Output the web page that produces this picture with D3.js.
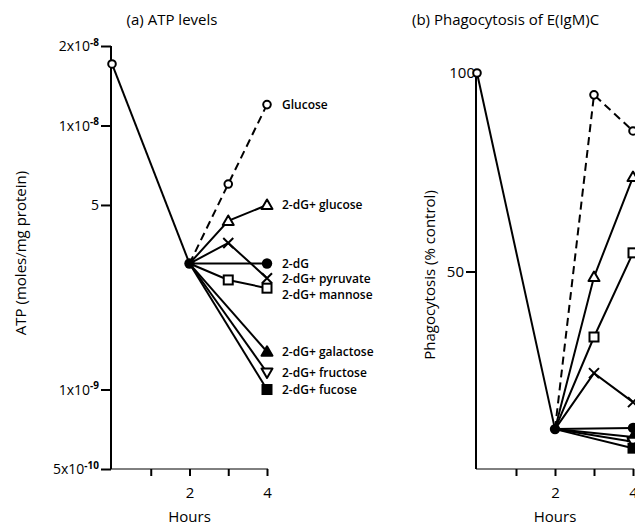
<!DOCTYPE html>
<html lang="en">
<head>
    <meta charset="UTF-8">
    <title>ATP levels and phagocytosis</title>
    <script src="https://cdn.jsdelivr.net/npm/d3@7"></script>
    <style>
        body { margin: 0; background: #fff; }
        svg text { font-family: "Open Sans", "DejaVu Sans", sans-serif; fill: #000; }
    </style>
</head>
<body>
<div id="chart"></div>
<script>
// hours of the shared start (control -> 2-dG) and of the treatment arms
const startHours = [0, 2];
const armHours = [2, 3, 4];

const seriesNames = ["Glucose", "2-dG+glucose", "2-dG", "2-dG+pyruvate", "2-dG+mannose",
                     "2-dG+galactose", "2-dG+fructose", "2-dG+fucose"];
const seriesMarkers = ["circleOpen", "triangleOpen", "circleFilled", "cross", "squareOpen",
                       "triangleFilled", "triangleDownOpen", "squareFilled"];

// (a) ATP, moles/mg protein
const atpStart = [1.71e-8, 3.0e-9];
const atpGlucose = [3.0e-9, 6.0e-9, 1.2e-8];
const atpDgGlucose = [3.0e-9, 4.35e-9, 5.0e-9];
const atpDg = [3.0e-9, null, 3.0e-9];
const atpPyruvate = [3.0e-9, 3.59e-9, 2.64e-9];
const atpMannose = [3.0e-9, 2.6e-9, 2.42e-9];
const atpGalactose = [3.0e-9, null, 1.39e-9];
const atpFructose = [3.0e-9, null, 1.16e-9];
const atpFucose = [3.0e-9, null, 1.0e-9];
const atpTicks = [2e-8, 1e-8, 5e-9, 1e-9, 5e-10];
const atpTickLabels = [["2x10", "-8"], ["1x10", "-8"], ["5", ""], ["1x10", "-9"], ["5x10", "-10"]];

// (b) phagocytosis, % control
const phagoStart = [100, 10.3];
const phagoGlucose = [10.3, 94.5, 85.4];
const phagoDgGlucose = [10.3, 48.6, 73.8];
const phagoDg = [10.3, null, 10.6];
const phagoPyruvate = [10.3, 24.4, 17.1];
const phagoMannose = [10.3, 33.5, 54.7];
const phagoGalactose = [10.3, null, 8.3];
const phagoFructose = [10.3, null, 7.1];
const phagoFucose = [10.3, null, 5.5];
const phagoTicks = [50, 100];

const hourTicks = [1, 2, 3, 4];
const hourLabels = ["", "2", "", "4"];

const atpSeries = [atpGlucose, atpDgGlucose, atpDg, atpPyruvate, atpMannose, atpGalactose, atpFructose, atpFucose];
const phagoSeries = [phagoGlucose, phagoDgGlucose, phagoDg, phagoPyruvate, phagoMannose, phagoGalactose, phagoFructose, phagoFucose];

const W = 635, H = 525;
const svg = d3.select("#chart").append("svg")
    .attr("width", W).attr("height", H);

const baseY = 469;

// small marker drawer
function marker(g, type, x, y) {
    const sw = 2;
    if (type === "circleOpen") {
        g.append("circle").attr("cx", x).attr("cy", y).attr("r", 3.8)
            .attr("fill", "#fff").attr("stroke", "#000").attr("stroke-width", sw);
    } else if (type === "circleFilled") {
        g.append("circle").attr("cx", x).attr("cy", y).attr("r", 5.2).attr("fill", "#000");
    } else if (type === "squareOpen" || type === "squareFilled") {
        g.append("rect").attr("x", x - 4.5).attr("y", y - 4.5).attr("width", 9).attr("height", 9)
            .attr("fill", type === "squareFilled" ? "#000" : "#fff")
            .attr("stroke", "#000").attr("stroke-width", sw);
    } else if (type === "triangleOpen" || type === "triangleFilled") {
        g.append("path").attr("d", `M${x},${y - 5.5}L${x + 5.5},${y + 4}L${x - 5.5},${y + 4}Z`)
            .attr("fill", type === "triangleFilled" ? "#000" : "#fff")
            .attr("stroke", "#000").attr("stroke-width", sw).attr("stroke-linejoin", "round");
    } else if (type === "triangleDownOpen") {
        g.append("path").attr("d", `M${x},${y + 5.5}L${x + 5.5},${y - 4}L${x - 5.5},${y - 4}Z`)
            .attr("fill", "#fff").attr("stroke", "#000").attr("stroke-width", sw).attr("stroke-linejoin", "round");
    } else if (type === "cross") {
        g.append("path").attr("d", `M${x - 5},${y - 5}L${x + 5},${y + 5}M${x + 5},${y - 5}L${x - 5},${y + 5}`)
            .attr("stroke", "#000").attr("stroke-width", sw);
    }
}

function drawPanel(opt) {
    const g = svg.append("g");
    const x = opt.x, y = opt.y;

    // x axis
    const xAxis = g.append("g")
        .attr("transform", `translate(0,${baseY})`)
        .call(d3.axisBottom(x).tickValues(hourTicks).tickSize(7).tickSizeOuter(0)
            .tickFormat((d, i) => hourLabels[i]));
    xAxis.select(".domain").attr("d", `M${x(0) - 1},0H${x(4) + 1}`);
    xAxis.selectAll("line").attr("stroke-width", 2);
    xAxis.selectAll("text").attr("y", 18).attr("font-size", 15);

    g.append("text").attr("x", x(2)).attr("y", 522).attr("text-anchor", "middle")
        .attr("font-size", 15).text("Hours");

    // y axis
    const yTop = d3.min(opt.ticks, t => y(t));
    const yAxis = g.append("g")
        .attr("transform", `translate(${x(0) - 1},0)`)
        .call(d3.axisLeft(y).tickValues(opt.ticks).tickSize(10).tickSizeOuter(0).tickPadding(2)
            .tickFormat(""));
    yAxis.select(".domain").attr("d", `M0,${yTop}V${baseY}`);
    yAxis.selectAll("path, line").attr("stroke-width", 2);
    yAxis.selectAll(".tick").each(function (d, i) {
        opt.tickText(d3.select(this), d, i);
    });

    g.append("text")
        .attr("transform", `translate(${opt.yLabelX},${opt.yLabelY}) rotate(-90)`)
        .attr("text-anchor", "middle").attr("font-size", 15).text(opt.yLabel);

    g.append("text").attr("x", opt.titleX).attr("y", 25).attr("font-size", 15)
        .attr("text-anchor", opt.titleAnchor).text(opt.title);

    const line = d3.line().x(d => x(d[0])).y(d => y(d[1]));
    const lineStroke = sel => sel.attr("fill", "none").attr("stroke", "#000").attr("stroke-width", 2);

    // control -> 2h
    g.append("path").datum(startHours.map((h, i) => [h, opt.start[i]])).attr("d", line).call(lineStroke);

    // arms, lines first (drawn from 2h straight to next available point)
    opt.series.forEach((vals, s) => {
        const pts = armHours.map((h, i) => [h, vals[i]]).filter(d => d[1] !== null);
        const p = g.append("path").datum(pts).attr("d", line).call(lineStroke);
        if (s === 0) p.attr("stroke-dasharray", "8,5");
    });

    // markers
    marker(g, "circleOpen", x(0), y(opt.start[0]));
    opt.series.forEach((vals, s) => {
        armHours.forEach((h, i) => {
            if (i > 0 && vals[i] !== null) marker(g, seriesMarkers[s], x(h), y(vals[i]));
        });
    });
    marker(g, "circleFilled", x(2), y(opt.start[1]));

    return g;
}

// (a) ATP levels
const xA = d3.scaleLinear().domain([0, 4]).range([112, 267]);
const yA = d3.scaleLog().domain([5e-10, 2e-8]).range([baseY, 46]);

const gA = drawPanel({
    x: xA, y: yA, ticks: atpTicks, start: atpStart, series: atpSeries,
    yLabel: "ATP (moles/mg protein)", yLabelX: 26, yLabelY: 253,
    title: "(a) ATP levels", titleX: 172, titleAnchor: "middle",
    tickText: (tick, d, i) => {
        const t = tick.select("text").text(null).attr("x", -12).attr("dy", "0.35em").attr("font-size", 14);
        t.append("tspan").text(atpTickLabels[i][0]);
        if (atpTickLabels[i][1]) {
            t.append("tspan").attr("dy", "-0.55em").attr("font-size", 10).attr("font-weight", "bold").text(atpTickLabels[i][1]);
        }
    }
});

// series labels to the right of (a)
const labelNudge = {"2-dG+pyruvate": 1, "2-dG+mannose": 7};
atpSeries.forEach((vals, s) => {
    gA.append("text")
        .attr("x", xA(4) + 15)
        .attr("y", yA(vals[2]) + (labelNudge[seriesNames[s]] || 0))
        .attr("dy", "0.35em").attr("font-size", 12).attr("font-weight", 600)
        .text(seriesNames[s].replace("2-dG+", "2-dG+ "));
});

// (b) Phagocytosis
const xB = d3.scaleLinear().domain([0, 4]).range([477, 633]);
const yB = d3.scaleLinear().domain([0, 100]).range([470, 73]);

drawPanel({
    x: xB, y: yB, ticks: phagoTicks, start: phagoStart, series: phagoSeries,
    yLabel: "Phagocytosis (% control)", yLabelX: 435, yLabelY: 275,
    title: "(b) Phagocytosis of E(IgM)C", titleX: 412, titleAnchor: "start",
    tickText: (tick, d, i) => {
        tick.select("text").attr("font-size", 15).attr("x", d === 100 ? -1 : -12).text(d);
        if (d === 100) tick.select("line").attr("x2", 0);
    }
});
</script>
</body>
</html>
